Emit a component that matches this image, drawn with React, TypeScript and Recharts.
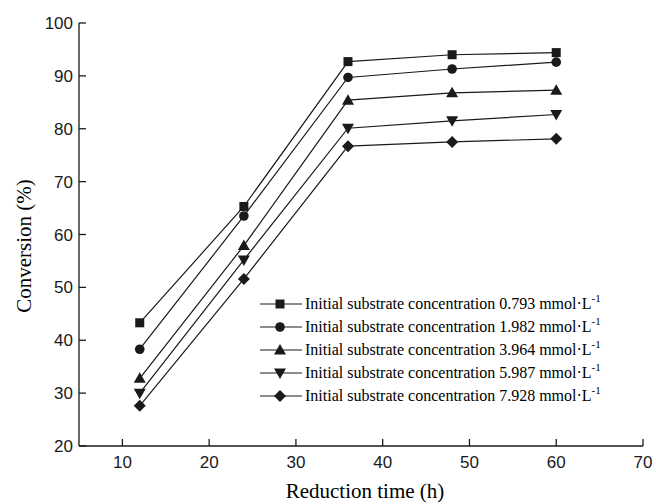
import React from 'react';
import { LineChart, Line, XAxis, YAxis } from 'recharts';

const times = [12, 24, 36, 48, 60];
const conc1 = [43.3, 65.3, 92.7, 94.0, 94.4];
const conc2 = [38.3, 63.5, 89.7, 91.3, 92.6];
const conc3 = [32.8, 57.9, 85.4, 86.8, 87.3];
const conc4 = [30.0, 55.2, 80.1, 81.5, 82.7];
const conc5 = [27.6, 51.6, 76.7, 77.5, 78.1];
const concLabels = ['0.793', '1.982', '3.964', '5.987', '7.928'];
const shapes = ['square', 'circle', 'triangle', 'triangleDown', 'diamond'];
const xTicks = [10, 20, 30, 40, 50, 60, 70];
const yTicks = [20, 30, 40, 50, 60, 70, 80, 90, 100];

const seriesValues = [conc1, conc2, conc3, conc4, conc5];
const keys = ['s1', 's2', 's3', 's4', 's5'];
const data = times.map((t, i) => {
  const row: any = { t };
  seriesValues.forEach((vals, k) => (row[keys[k]] = vals[i]));
  return row;
});

const INK = '#1a1a1a';
const SERIF = '"Liberation Serif", "Times New Roman", serif';
const SANS = '"Liberation Sans", Arial, sans-serif';

function MarkerShape({ shape, cx, cy }: { shape: string; cx: number; cy: number }) {
  if (cx == null || cy == null) return null;
  switch (shape) {
    case 'square':
      return <rect x={cx - 4.5} y={cy - 4.5} width={9} height={9} fill={INK} />;
    case 'circle':
      return <circle cx={cx} cy={cy} r={4.8} fill={INK} />;
    case 'triangle':
      return <polygon points={`${cx},${cy - 6} ${cx + 6},${cy + 4.5} ${cx - 6},${cy + 4.5}`} fill={INK} />;
    case 'triangleDown':
      return <polygon points={`${cx},${cy + 6} ${cx + 6},${cy - 4.5} ${cx - 6},${cy - 4.5}`} fill={INK} />;
    default:
      return <polygon points={`${cx},${cy - 6} ${cx + 6},${cy} ${cx},${cy + 6} ${cx - 6},${cy}`} fill={INK} />;
  }
}

const XTick = (props: any) => {
  const { x, y, payload } = props;
  return (
    <g>
      <line x1={x} y1={y} x2={x} y2={y - 7} stroke={INK} strokeWidth={1.3} />
      <text x={x} y={y + 22} textAnchor="middle" fontFamily={SANS} fontSize={17} fill={INK}>
        {payload.value}
      </text>
    </g>
  );
};

const YTick = (props: any) => {
  const { x, y, payload } = props;
  return (
    <g>
      <line x1={x} y1={y} x2={x + 7} y2={y} stroke={INK} strokeWidth={1.3} />
      <text x={x - 6} y={y + 6} textAnchor="end" fontFamily={SANS} fontSize={17} fill={INK}>
        {payload.value}
      </text>
    </g>
  );
};

const LegendBlock = () => (
  <div
    style={{
      position: 'absolute',
      left: 258,
      top: 292,
      fontFamily: SERIF,
      fontSize: 16,
      color: '#000',
      lineHeight: 1,
    }}
  >
    {concLabels.map((c, i) => (
      <div key={c} style={{ display: 'flex', alignItems: 'center', height: 23.2, whiteSpace: 'nowrap' }}>
        <svg width={46} height={16} style={{ marginRight: 1 }}>
          <line x1={2} y1={8} x2={44} y2={8} stroke={INK} strokeWidth={1.2} />
          <MarkerShape shape={shapes[i]} cx={22} cy={8} />
        </svg>
        <span>
          Initial substrate concentration {c} mmol·L
          <sup style={{ fontSize: 11, verticalAlign: 7, lineHeight: 0 }}>-1</sup>
        </span>
      </div>
    ))}
  </div>
);

export default function App() {
  return (
    <div style={{ position: 'absolute', left: 0, top: 0, width: 656, height: 504, background: '#fff' }}>
      <LineChart width={656} height={504} data={data} margin={{ top: 23, right: 13, left: 0, bottom: 0 }}>
        <XAxis
          dataKey="t"
          type="number"
          domain={[5, 70]}
          ticks={xTicks}
          tickSize={0}
          tickMargin={0}
          tickLine={false}
          tick={<XTick />}
          height={58}
          stroke={INK}
          strokeWidth={1.3}
          allowDataOverflow
          label={{
            content: () => (
              <text x={365} y={498} textAnchor="middle" fontFamily={SERIF} fontSize={21} fill="#000">
                Reduction time (h)
              </text>
            ),
          }}
        />
        <YAxis
          type="number"
          domain={[20, 100]}
          ticks={yTicks}
          tickSize={0}
          tickMargin={0}
          tickLine={false}
          tick={<YTick />}
          width={79}
          stroke={INK}
          strokeWidth={1.3}
          allowDataOverflow
          label={{
            content: () => {
              const cx = 24;
              const cy = 246;
              return (
                <text
                  x={cx}
                  y={cy}
                  textAnchor="middle"
                  dominantBaseline="central"
                  transform={`rotate(-90 ${cx} ${cy})`}
                  fontFamily={SERIF}
                  fontSize={21}
                  fill="#000"
                >
                  Conversion (%)
                </text>
              );
            },
          }}
        />
        {keys.map((k, i) => (
          <Line
            key={k}
            dataKey={k}
            type="linear"
            stroke={INK}
            strokeWidth={1.2}
            isAnimationActive={false}
            dot={(p: any) => <MarkerShape key={`${k}-${p.index}`} shape={shapes[i]} cx={p.cx} cy={p.cy} />}
            activeDot={false}
          />
        ))}
      </LineChart>
      <LegendBlock />
    </div>
  );
}
